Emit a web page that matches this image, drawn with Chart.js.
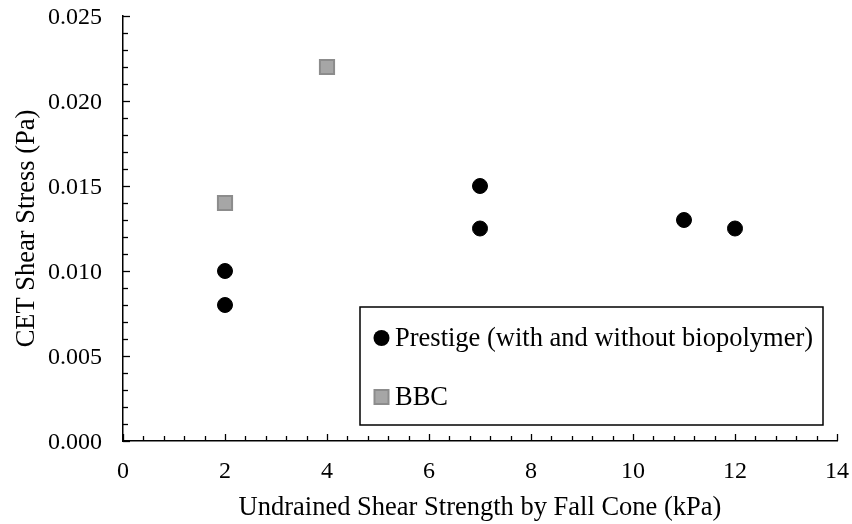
<!DOCTYPE html>
<html>
<head>
<meta charset="utf-8">
<style>
  html, body { margin: 0; padding: 0; background: #fff; }
  #wrap { width: 852px; height: 524px; }
</style>
<script src="https://cdn.jsdelivr.net/npm/chart.js@4/dist/chart.umd.min.js"></script>
</head>
<body>
<div id="wrap"><canvas id="c" width="852" height="524"></canvas></div>
<script>
// Undrained shear strength (kPa) vs. CET shear stress (Pa)
const prestigeX = [2, 2, 7, 7, 11, 12];
const prestigeY = [0.010, 0.008, 0.015, 0.0125, 0.013, 0.0125];
const bbcX = [2, 4];
const bbcY = [0.014, 0.022];
const seriesNames = ['Prestige (with and without biopolymer)', 'BBC'];
const xTitle = 'Undrained Shear Strength by Fall Cone (kPa)';
const yTitle = 'CET Shear Stress (Pa)';

const SERIF = '"Liberation Serif", "Times New Roman", serif';

function pts(xs, ys) { return xs.map((x, i) => ({ x: x, y: ys[i] })); }

// Inward tick marks (major + minor) on both axes
const innerTicks = {
  id: 'innerTicks',
  afterDraw(chart) {
    const ctx = chart.ctx;
    const a = chart.chartArea;
    const xs = chart.scales.x, ys = chart.scales.y;
    ctx.save();
    ctx.strokeStyle = '#000';
    ctx.lineWidth = 1.3;
    for (let i = 0; i <= 35; i++) {
      const v = i * 0.4;
      const px = Math.round(xs.getPixelForValue(v)) + 0.5;
      const len = (i % 5 === 0) ? 7 : 5;
      ctx.beginPath();
      ctx.moveTo(px, a.bottom);
      ctx.lineTo(px, a.bottom - len);
      ctx.stroke();
    }
    for (let i = 0; i <= 25; i++) {
      const v = i * 0.001;
      const py = Math.round(ys.getPixelForValue(v)) + 0.5;
      const len = (i % 5 === 0) ? 7 : 5;
      ctx.beginPath();
      ctx.moveTo(a.left, py);
      ctx.lineTo(a.left + len, py);
      ctx.stroke();
    }
    ctx.restore();
  }
};

// Boxed legend inside the plot area
const boxLegend = {
  id: 'boxLegend',
  afterDraw(chart) {
    const ctx = chart.ctx;
    const box = { l: 360, t: 307, r: 823, b: 425 };
    ctx.save();
    ctx.fillStyle = '#fff';
    ctx.fillRect(box.l, box.t, box.r - box.l, box.b - box.t);
    ctx.strokeStyle = '#000';
    ctx.lineWidth = 1.5;
    ctx.strokeRect(box.l, box.t, box.r - box.l, box.b - box.t);
    const rows = [338, 397];
    ctx.font = '26.5px ' + SERIF;
    ctx.textBaseline = 'middle';
    ctx.textAlign = 'left';
    chart.data.datasets.forEach((ds, i) => {
      const cy = rows[i];
      const cx = 381.5;
      ctx.fillStyle = ds.backgroundColor;
      ctx.strokeStyle = ds.borderColor;
      ctx.lineWidth = ds.borderWidth;
      if (ds.pointStyle === 'rect') {
        ctx.fillRect(cx - 7, cy - 7, 14, 14);
        ctx.strokeRect(cx - 7, cy - 7, 14, 14);
      } else {
        ctx.beginPath();
        ctx.arc(cx, cy, 8, 0, Math.PI * 2);
        ctx.fill();
      }
      ctx.fillStyle = '#000';
      ctx.fillText(ds.label, 395, cy + 1);
    });
    ctx.restore();
  }
};

new Chart(document.getElementById('c'), {
  type: 'scatter',
  data: {
    datasets: [
      {
        label: seriesNames[0],
        data: pts(prestigeX, prestigeY),
        pointStyle: 'circle',
        pointRadius: 7.5,
        pointHoverRadius: 7.5,
        backgroundColor: '#000000',
        borderColor: '#000000',
        borderWidth: 1
      },
      {
        label: seriesNames[1],
        data: pts(bbcX, bbcY),
        pointStyle: 'rect',
        pointRadius: 10,
        pointHoverRadius: 10,
        backgroundColor: '#A6A6A6',
        borderColor: '#8C8C8C',
        borderWidth: 2
      }
    ]
  },
  options: {
    responsive: false,
    animation: false,
    layout: { padding: { top: 16, right: 15, left: 0, bottom: 0 } },
    plugins: {
      legend: { display: false },
      tooltip: { enabled: false }
    },
    scales: {
      x: {
        type: 'linear',
        min: 0, max: 14,
        afterFit(s) { s.height = 83; s.paddingLeft = 0; s.paddingRight = 0; },
        ticks: {
          stepSize: 2,
          padding: 16,
          color: '#000',
          font: { family: SERIF, size: 24 }
        },
        grid: { display: true, drawOnChartArea: false, drawTicks: false },
        border: { display: true, color: '#000', width: 1.5 },
        title: {
          display: true,
          text: xTitle,
          color: '#000',
          font: { family: SERIF, size: 26.5 },
          padding: { top: 0, bottom: 0 }
        }
      },
      y: {
        type: 'linear',
        min: 0, max: 0.025,
        afterFit(s) { s.width = 123; s.paddingTop = 0; s.paddingBottom = 0; },
        ticks: {
          stepSize: 0.005,
          padding: 21,
          labelOffset: 2,
          color: '#000',
          font: { family: SERIF, size: 24 },
          callback: (v) => Number(v).toFixed(3)
        },
        grid: { display: true, drawOnChartArea: false, drawTicks: false },
        border: { display: true, color: '#000', width: 1.5 },
        title: {
          display: true,
          text: yTitle,
          color: '#000',
          font: { family: SERIF, size: 26.5 },
          padding: { top: 11, bottom: 0 }
        }
      }
    }
  },
  plugins: [innerTicks, boxLegend]
});
</script>
</body>
</html>
